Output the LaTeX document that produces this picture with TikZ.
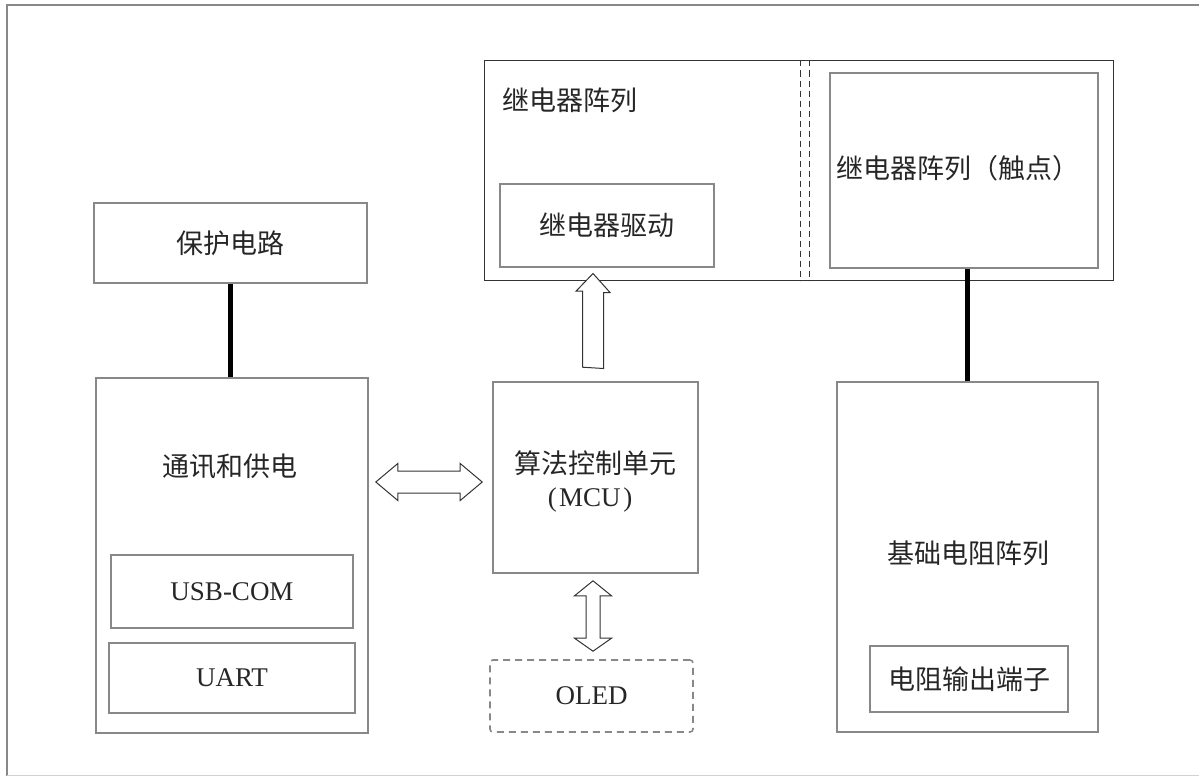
\documentclass[tikz,border=0pt]{standalone}
\usepackage{fontspec}
\setmainfont{Liberation Serif}
\newfontfamily\cjk{Noto Sans CJK SC}
\usetikzlibrary{calc}
\definecolor{boxgray}{HTML}{888888}
\definecolor{inkgray}{HTML}{262626}
\definecolor{linegray}{HTML}{333333}
\tikzset{
  box/.style={draw=boxgray, line width=1.6pt, inner sep=0pt},
  thinbox/.style={draw=linegray, line width=1pt, inner sep=0pt},
  dashbox/.style={draw=boxgray, line width=1.6pt, dash pattern=on 7pt off 5pt, rounded corners=3pt, inner sep=0pt},
  sepline/.style={draw=linegray, line width=0.8pt, dash pattern=on 6pt off 4pt},
  heavy/.style={draw=black, line width=4.5pt},
  hollow/.style={draw=linegray, line width=1pt, fill=white, line join=miter},
  zh/.style={font=\cjk\fontsize{27}{31}\selectfont, text=inkgray},
  en/.style={font=\fontsize{27}{32}\selectfont, text=inkgray},
}
\begin{document}
\begin{tikzpicture}[x=1pt,y=-1pt]
\useasboundingbox (0,0) rectangle (1199,776);
% frame
\draw[boxgray, line width=2pt] (1199,5) -- (7,5) -- (7,776);
\draw[gray!35, line width=1pt] (7,775) -- (1199,775);

% left column
\node[box, zh, minimum width=273, minimum height=80] (protect) at (230.5,243) {保护电路};
\node[box, minimum width=272, minimum height=355] (comm) at (232,555.5) {};
\node[zh] (commtext) at (230,466) {通讯和供电};
\node[box, en, minimum width=242, minimum height=73] (usb) at (232,591.5) {USB-COM};
\node[box, en, minimum width=246, minimum height=70] (uart) at (232,678) {UART};
\draw[heavy] (protect.south) -- (protect.south |- comm.north);

% middle column
\node[box, minimum width=205, minimum height=191] (mcu) at (595.5,477.5) {};
\node[zh] (mcutext) at (595,463) {算法控制单元};
\node[en] (mcuname) at (590,500) {(\kern2.5pt MCU\kern2.5pt)};
\node[dashbox, en, minimum width=203, minimum height=72] (oled) at (591.5,696) {OLED};

% relay array
\node[thinbox, minimum width=629, minimum height=219] (relay) at (798.5,170.5) {};
\node[zh, anchor=west, inner sep=0pt] (relaytext) at (502,100) {继电器阵列};
\node[box, zh, minimum width=214, minimum height=83] (drive) at (607,225.5) {继电器驱动};
\draw[sepline] ($(relay.north west)+(317,0)$) -- ($(relay.south west)+(317,0)$);
\draw[sepline] ($(relay.north west)+(326,0)$) -- ($(relay.south west)+(326,0)$);
\node[box, minimum width=268, minimum height=195] (contact) at (964,170.5) {};
\node[zh, anchor=west, inner sep=0pt] (contacttext) at (836,168) {继电器阵列（触点）};

% right column
\node[box, minimum width=261, minimum height=350] (base) at (967.5,557) {};
\node[zh] (basetext) at (968,553) {基础电阻阵列};
\node[box, zh, minimum width=198, minimum height=66] (resout) at (969,679) {电阻输出端子};
\draw[heavy] (base.north) -- (base.north |- contact.south);

% block arrows
\coordinate (upbase) at ($(mcu.north)+(-2.5,-14)$);
\coordinate (uptip) at ($(upbase |- relay.south)+(0,-7)$);
\draw[hollow] (upbase) ++(-10.5,0) -- ++(0,-76) -- ++(-6.5,0) -- (uptip)
  -- ++(17,19) -- ++(-6.5,0) -- ++(0,76) -- cycle;

\coordinate (hl) at ($(comm.east)+(7,-73.5)$);
\coordinate (hr) at ($(mcu.west)+(-10,4.5)$);
\draw[hollow] (hl) -- ++(22,-18.5) -- ++(0,7.5) -- ($(hr)+(-22,-11)$) -- ++(0,-7.5)
  -- (hr) -- ++(-22,18.5) -- ++(0,-7.5) -- ($(hl)+(22,11)$) -- ++(0,7.5) -- cycle;

\coordinate (vt) at ($(mcu.south)+(-2.5,7)$);
\coordinate (vb) at ($(oled.north)+(1.5,-8)$);
\draw[hollow] (vt) -- ++(18.5,15) -- ++(-11.5,0) -- ($(vb)+(7,-13)$) -- ++(11.5,0)
  -- (vb) -- ++(-18.5,-13) -- ++(11.5,0) -- ($(vt)+(-7,15)$) -- ++(-11.5,0) -- cycle;
\end{tikzpicture}
\end{document}
